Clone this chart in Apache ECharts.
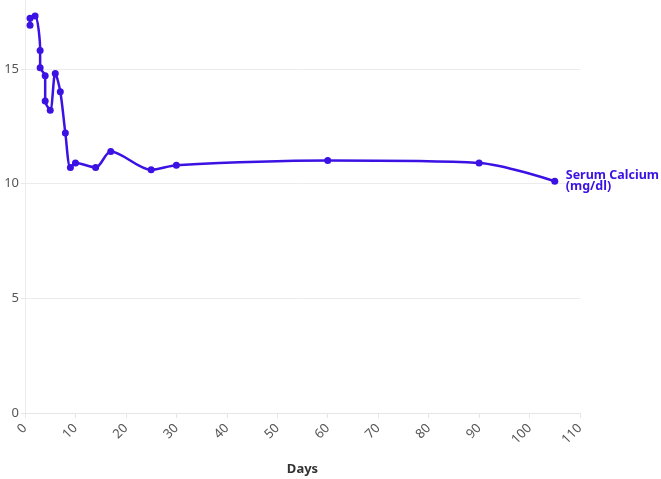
<!DOCTYPE html>
<html>
<head>
<meta charset="utf-8">
<script src="https://cdn.jsdelivr.net/npm/echarts@6/dist/echarts.min.js"></script>
<style>
  html, body { margin: 0; padding: 0; background: #fff; }
  #chart { width: 661px; height: 479px; }
</style>
</head>
<body>
<div id="chart"></div>
<script>
// 天数 / 血钙值
const days = [1, 1, 2, 3, 3, 4, 4, 5, 6, 7, 8, 9, 10, 14, 17, 25, 30, 60, 90, 105];
const calcium = [16.9, 17.2, 17.3, 15.8, 15.05, 14.7, 13.6, 13.2, 14.8, 14.0, 12.2, 10.7, 10.9, 10.7, 11.4, 10.6, 10.8, 11.0, 10.9, 10.1];
const seriesName = "Serum Calcium\n(mg/dl)";
const xName = "Days";

const lineColor = "#3b12e3";
const points = days.map((d, i) => [d, calcium[i]]);

const chart = echarts.init(document.getElementById("chart"));
chart.setOption({
  animation: false,
  grid: { left: 25, right: 81, top: 0, bottom: 66, outerBoundsMode: "none", containLabel: false },
  xAxis: {
    type: "value",
    min: 0,
    max: 110,
    interval: 10,
    name: xName,
    nameLocation: "middle",
    nameGap: 50,
    nameTextStyle: { color: "#333", fontSize: 13, fontWeight: "bold", fontFamily: "Noto Sans" },
    axisLine: { show: true, lineStyle: { color: "#e6e6e6" } },
    axisTick: { show: true, length: 5, lineStyle: { color: "#e6e6e6" } },
    axisLabel: { rotate: 45, color: "#555", fontSize: 13, fontFamily: "Noto Sans", margin: 13 },
    splitLine: { show: false }
  },
  yAxis: {
    type: "value",
    min: 0,
    max: 18,
    interval: 5,
    axisLine: { show: true, lineStyle: { color: "#ececec" } },
    axisTick: { show: true, length: 4, lineStyle: { color: "#e6e6e6" } },
    axisLabel: { color: "#555", fontSize: 13, fontFamily: "Noto Sans", margin: 6, showMaxLabel: false },
    splitLine: { show: true, showMaxLine: false, lineStyle: { color: "#ececec" } }
  },
  series: [
    {
      name: seriesName,
      type: "line",
      data: points,
      smooth: 0.3,
      symbol: "circle",
      symbolSize: 7,
      itemStyle: { color: lineColor },
      lineStyle: { color: lineColor, width: 2.5 },
      endLabel: {
        show: true,
        formatter: seriesName,
        color: lineColor,
        fontSize: 12.5,
        fontWeight: "bold",
        fontFamily: "Noto Sans",
        lineHeight: 11,
        distance: 11
      }
    }
  ]
});
</script>
</body>
</html>
